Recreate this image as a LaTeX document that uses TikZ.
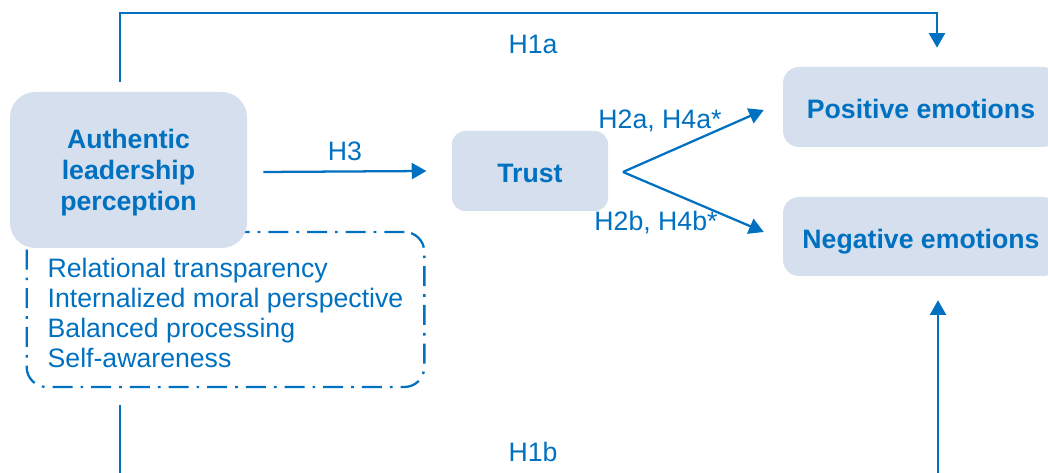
\documentclass[tikz,border=0pt]{standalone}
\usepackage{fontspec}
\setmainfont{Liberation Sans}
\usepackage{xcolor}
\definecolor{linkblue}{RGB}{0,112,192}
\definecolor{boxfill}{RGB}{213,223,238}
\usetikzlibrary{arrows.meta, positioning, calc}

\begin{document}
\begin{tikzpicture}[x=0.75pt, y=-0.75pt, >={Triangle[length=11pt, width=12pt]},
    every node/.style={text=linkblue, font=\fontsize{20}{23}\selectfont},
    factor/.style={fill=boxfill, rounded corners=12pt, inner sep=0pt, align=center, font=\fontsize{20}{23}\selectfont\bfseries},
    oneline/.style={text height=18pt, text depth=0pt},
    dimbox/.style={draw=linkblue, line width=1.7pt, dash pattern=on 15pt off 6pt on 2pt off 6pt, rounded corners=15pt, align=left, inner xsep=15.75pt, text height=86.5pt, text depth=0pt, font=\fontsize{20}{22.5}\selectfont},
    link/.style={->, line width=1.7pt, draw=linkblue},
    plain/.style={line width=1.7pt, draw=linkblue}]
    \useasboundingbox (0,0) rectangle (1048,473);
    % dimensions of authentic leadership (behind the main box)
    \node[dimbox, minimum width=297.75pt, minimum height=116.25pt] (dims) at (225.5,309.5)
        {Relational transparency\\Internalized moral perspective\\Balanced processing\\Self-awareness};
    % constructs
    \node[factor, minimum width=177.75pt, minimum height=117pt, rounded corners=19pt, text depth=0pt] (auth) at (128.5,170)
        {Authentic\\leadership\\perception};
    \node[factor, oneline, minimum width=117pt, minimum height=60pt, rounded corners=10pt] (trust) at (530,171) {Trust};
    \node[factor, oneline, minimum width=207pt, minimum height=60pt] (pos) at (921,107) {Positive emotions};
    \node[factor, oneline, minimum width=207pt, minimum height=59.25pt] (neg) at (921,236.5) {Negative emotions};
    % paths
    \draw[link] ([xshift=12pt, yshift=-1.5pt]auth.east) -- ([xshift=-19pt]trust.west)
        node[midway, above=4pt] (h3) {H3};
    \coordinate (fork) at ([xshift=11pt, yshift=-0.75pt]trust.east);
    \draw[link] (fork) -- ([xshift=-14.25pt, yshift=-2.25pt]pos.west);
    \draw[link] (fork) -- ([xshift=-14.25pt, yshift=3.4pt]neg.west);
    \node (h2a) at (660,121) {H2a, H4a*};
    \node (h2b) at (656,223) {H2b, H4b*};
    % direct effects
    \coordinate (topcorner) at (937,13);
    \draw[link] ([xshift=-6.4pt, yshift=7.5pt]auth.north) |- (topcorner)
        -- ([xshift=12pt, yshift=14.25pt]pos.north);
    \node (h1a) at (533,44) {H1a};
    \coordinate (h1bstart) at (120,405);
    \coordinate (h1bend) at (120,473);
    \coordinate (h1bfoot) at (938,473);
    \draw[plain] (h1bstart) -- (h1bend);
    \draw[link] (h1bfoot) -- ([xshift=12.75pt, yshift=-18pt]neg.south);
    \node (h1b) at (533,452) {H1b};
\end{tikzpicture}
\end{document}
